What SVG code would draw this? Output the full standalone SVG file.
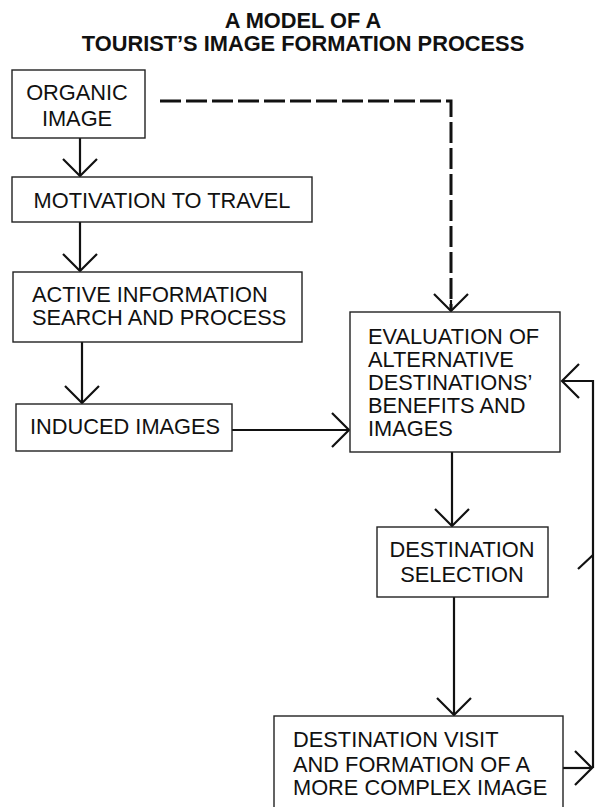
<svg xmlns="http://www.w3.org/2000/svg" width="595" height="807" viewBox="0 0 595 807">
<style>
.box{fill:#fff;stroke:#222;stroke-width:1.4}
.t{font-family:"Liberation Sans",Arial,sans-serif;font-size:21.8px;fill:#111}
.c{text-anchor:middle}
.title{font-family:"Liberation Sans",Arial,sans-serif;font-size:21.8px;font-weight:bold;fill:#111;text-anchor:middle}
.ln{fill:none;stroke:#111;stroke-width:2.2}
.dash{fill:none;stroke:#111;stroke-width:3;stroke-dasharray:21 5}
</style>
<defs>
<marker id="ah" markerUnits="userSpaceOnUse" markerWidth="40" markerHeight="40" viewBox="-20 -20 40 40" refX="0" refY="0" orient="auto">
<path d="M-17,-17 L0,0 L-17,17" fill="none" stroke="#111" stroke-width="2.2"/>
</marker>
</defs>
<rect width="595" height="807" fill="#fff"/>
<g id="title">
<text class="title" x="303" y="28">A MODEL OF A</text>
<text class="title" x="303" y="51">TOURIST’S IMAGE FORMATION PROCESS</text>
</g>
<g id="connectors">
<line class="ln" x1="80" y1="138" x2="80" y2="176" marker-end="url(#ah)"/>
<line class="ln" x1="80" y1="222" x2="80" y2="271" marker-end="url(#ah)"/>
<line class="ln" x1="82" y1="342" x2="82" y2="403" marker-end="url(#ah)"/>
<line class="ln" x1="232" y1="430" x2="349" y2="430" marker-end="url(#ah)"/>
<polyline class="dash" points="160,101 451,101 451,310"/>
<line class="ln" x1="451" y1="300" x2="451" y2="311" marker-end="url(#ah)"/>
<line class="ln" x1="452" y1="452" x2="452" y2="526" marker-end="url(#ah)"/>
<line class="ln" x1="454" y1="597" x2="454" y2="715" marker-end="url(#ah)"/>
<line class="ln" x1="563" y1="768" x2="592" y2="768" marker-end="url(#ah)"/>
<polyline class="ln" points="593,768 593,381 562,381" marker-end="url(#ah)"/>
<line class="ln" x1="593" y1="555" x2="578" y2="569"/>
</g>
<g id="organic">
<rect class="box" x="12" y="70" width="133" height="68"/>
<text class="t c" x="77" y="100">ORGANIC</text>
<text class="t c" x="77" y="126">IMAGE</text>
</g>
<g id="motivation">
<rect class="box" x="12" y="177" width="300" height="45"/>
<text class="t c" x="162" y="208">MOTIVATION TO TRAVEL</text>
</g>
<g id="active">
<rect class="box" x="13" y="272" width="289" height="70"/>
<text class="t" x="32" y="302">ACTIVE INFORMATION</text>
<text class="t" x="32" y="325">SEARCH AND PROCESS</text>
</g>
<g id="induced">
<rect class="box" x="16" y="404" width="216" height="47"/>
<text class="t" x="30" y="434">INDUCED IMAGES</text>
</g>
<g id="evaluation">
<rect class="box" x="350" y="312" width="210" height="140"/>
<text class="t" x="368" y="344">EVALUATION OF</text>
<text class="t" x="368" y="367">ALTERNATIVE</text>
<text class="t" x="368" y="390">DESTINATIONS’</text>
<text class="t" x="368" y="413">BENEFITS AND</text>
<text class="t" x="368" y="436">IMAGES</text>
</g>
<g id="selection">
<rect class="box" x="377" y="527" width="171" height="70"/>
<text class="t c" x="462" y="557">DESTINATION</text>
<text class="t c" x="462" y="582">SELECTION</text>
</g>
<g id="visit">
<rect class="box" x="274" y="716" width="289" height="100"/>
<text class="t" x="293" y="747">DESTINATION VISIT</text>
<text class="t" x="293" y="772">AND FORMATION OF A</text>
<text class="t" x="293" y="795">MORE COMPLEX IMAGE</text>
</g>
</svg>
